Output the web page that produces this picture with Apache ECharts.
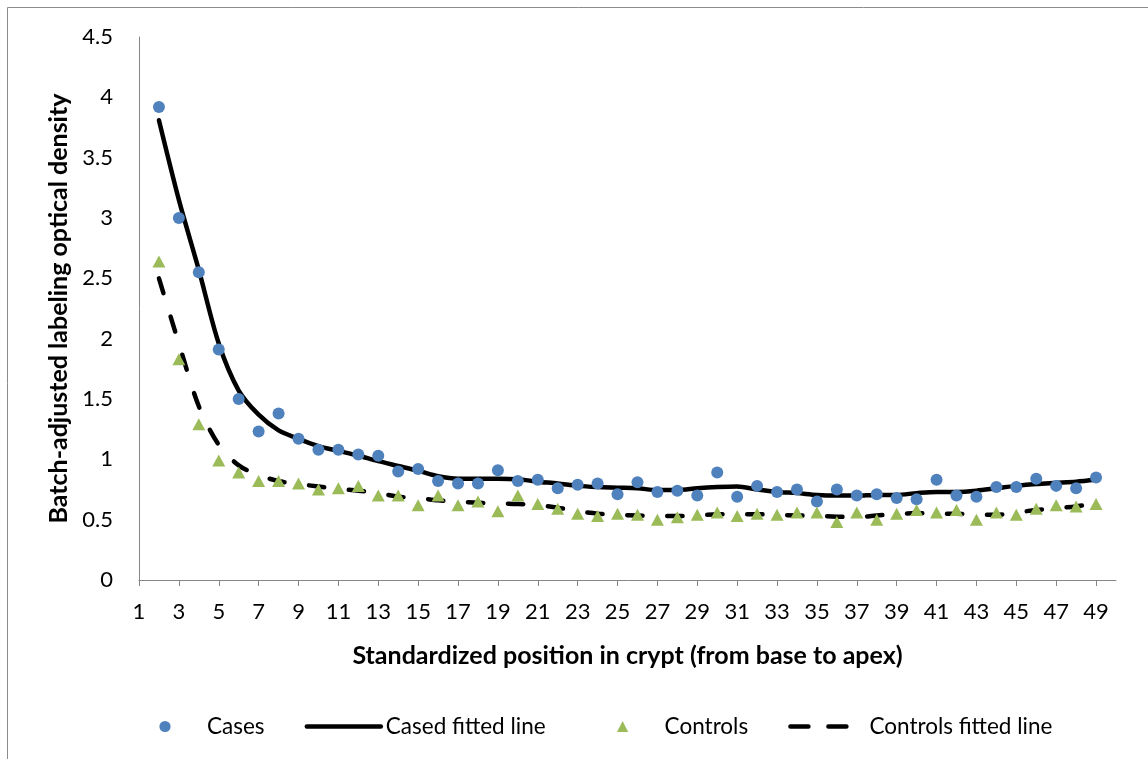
<!DOCTYPE html>
<html>
<head>
<meta charset="utf-8">
<script src="https://cdn.jsdelivr.net/npm/echarts@6/dist/echarts.min.js"></script>
<style>
  html, body { margin: 0; padding: 0; background: #ffffff; }
  #chart { width: 1148px; height: 759px; }
</style>
</head>
<body>
<div id="chart"></div>
<script>
// Standardized crypt positions (axis runs one step past the last measured position)
const positions = ['1','2','3','4','5','6','7','8','9','10',
  '11','12','13','14','15','16','17','18','19','20',
  '21','22','23','24','25','26','27','28','29','30',
  '31','32','33','34','35','36','37','38','39','40',
  '41','42','43','44','45','46','47','48','49','50'];

// Observed optical density, positions 1..50 (no values at 1 and 50)
const cases = [null, 3.92, 3.00, 2.55, 1.91, 1.50, 1.23, 1.38, 1.17, 1.08,
  1.08, 1.04, 1.03, 0.90, 0.92, 0.82, 0.80, 0.80, 0.91, 0.82,
  0.83, 0.76, 0.79, 0.80, 0.71, 0.81, 0.73, 0.74, 0.70, 0.89,
  0.69, 0.78, 0.73, 0.75, 0.65, 0.75, 0.70, 0.71, 0.68, 0.67,
  0.83, 0.70, 0.69, 0.77, 0.77, 0.84, 0.78, 0.76, 0.85, null];

const controls = [null, 2.64, 1.83, 1.29, 0.99, 0.89, 0.82, 0.82, 0.80, 0.75,
  0.76, 0.78, 0.70, 0.70, 0.62, 0.70, 0.62, 0.65, 0.57, 0.70,
  0.63, 0.59, 0.55, 0.53, 0.55, 0.54, 0.50, 0.52, 0.54, 0.56,
  0.53, 0.55, 0.54, 0.56, 0.56, 0.48, 0.56, 0.50, 0.55, 0.58,
  0.56, 0.58, 0.50, 0.56, 0.54, 0.59, 0.62, 0.61, 0.63, null];

// Smoothed fits
const casesFit = [null, 3.81, 3.15, 2.57, 1.96, 1.57, 1.37, 1.24, 1.17, 1.11,
  1.07, 1.03, 0.985, 0.945, 0.905, 0.86, 0.84, 0.84, 0.84, 0.835,
  0.815, 0.80, 0.78, 0.77, 0.765, 0.76, 0.745, 0.745, 0.76, 0.77,
  0.775, 0.75, 0.73, 0.72, 0.705, 0.70, 0.70, 0.705, 0.705, 0.72,
  0.73, 0.73, 0.74, 0.76, 0.78, 0.795, 0.805, 0.815, 0.83, null];

const controlsFit = [null, 2.50, 1.96, 1.44, 1.12, 0.95, 0.87, 0.82, 0.795, 0.775,
  0.755, 0.74, 0.72, 0.69, 0.68, 0.66, 0.65, 0.64, 0.635, 0.63,
  0.62, 0.60, 0.57, 0.55, 0.54, 0.535, 0.53, 0.53, 0.535, 0.545,
  0.545, 0.545, 0.54, 0.535, 0.53, 0.525, 0.52, 0.535, 0.545, 0.555,
  0.55, 0.55, 0.54, 0.54, 0.56, 0.58, 0.595, 0.61, 0.635, null];

const FONT = 'Lato, "Liberation Sans", sans-serif';
const AXIS_GREY = '#868686';
const BLUE = '#4F81BD';
const GREEN = '#9BBB59';

const chart = echarts.init(document.getElementById('chart'), null, { renderer: 'canvas' });

// Marker-only series: drawn as line series with an invisible stroke so the
// legend keeps the symbol's own proportions.
function markerSeries(name, values, symbol, size, color) {
  return {
    name: name,
    type: 'line',
    data: values,
    symbol: symbol,
    symbolSize: size,
    showSymbol: true,
    showAllSymbol: true,
    connectNulls: false,
    z: 3,
    lineStyle: { width: 0, opacity: 0 },
    itemStyle: { color: color, opacity: 1, borderWidth: 0 }
  };
}

chart.setOption({
  animation: false,
  backgroundColor: '#ffffff',
  textStyle: { fontFamily: FONT },
  graphic: [{
    type: 'rect',
    shape: { x: 7.5, y: 7.5, width: 1200, height: 800 },
    style: { fill: 'none', stroke: '#8c8c8c', lineWidth: 1 },
    silent: true
  }],
  grid: { left: 139, right: 32, top: 37, bottom: 179, containLabel: false },
  legend: {
    left: 123,
    top: 710,
    itemWidth: 74,
    itemHeight: 14,
    itemGap: 40,
    textStyle: { fontFamily: FONT, fontSize: 22.5, color: '#000000' },
    data: [
      { name: 'Cases', lineStyle: { width: 0, opacity: 0 } },
      { name: 'Cased fitted line', itemStyle: { opacity: 0 },
        lineStyle: { width: 4.5, color: '#000000', cap: 'round' } },
      { name: 'Controls', lineStyle: { width: 0, opacity: 0 } },
      { name: 'Controls fitted line', itemStyle: { opacity: 0 },
        lineStyle: { width: 4.5, color: '#000000', type: [18, 20], cap: 'round' } }
    ]
  },
  xAxis: {
    type: 'category',
    data: positions,
    boundaryGap: false,
    name: 'Standardized position in crypt (from base to apex)',
    nameLocation: 'middle',
    nameGap: 63,
    nameTextStyle: { fontFamily: FONT, fontSize: 25, fontWeight: 'bold', color: '#000000' },
    axisLine: { show: true, lineStyle: { color: AXIS_GREY, width: 1 } },
    axisTick: { show: true, interval: 1, length: 6, lineStyle: { color: AXIS_GREY } },
    axisLabel: { interval: 1, margin: 21, fontSize: 22, color: '#000000', fontFamily: FONT },
    splitLine: { show: false }
  },
  yAxis: {
    type: 'value',
    min: 0,
    max: 4.5,
    interval: 0.5,
    name: 'Batch-adjusted labeling optical density',
    nameLocation: 'middle',
    nameGap: 66,
    nameTextStyle: { fontFamily: FONT, fontSize: 25, fontWeight: 'bold', color: '#000000' },
    axisLine: { show: true, lineStyle: { color: AXIS_GREY, width: 1 } },
    axisTick: { show: false },
    axisLabel: { margin: 26, fontSize: 22, color: '#000000', fontFamily: FONT },
    splitLine: { show: false }
  },
  series: [
    markerSeries('Cases', cases, 'circle', 12, BLUE),
    {
      name: 'Cased fitted line',
      type: 'line',
      data: casesFit,
      symbol: 'none',
      smooth: 0.3,
      z: 2,
      lineStyle: { color: '#000000', width: 4.5, cap: 'round', join: 'round' },
      itemStyle: { color: '#000000' }
    },
    markerSeries('Controls', controls, 'triangle', [13, 12], GREEN),
    {
      name: 'Controls fitted line',
      type: 'line',
      data: controlsFit,
      symbol: 'none',
      smooth: 0.3,
      z: 2,
      lineStyle: { color: '#000000', width: 4.5, type: [15.5, 24.5], cap: 'round', join: 'round' },
      itemStyle: { color: '#000000' }
    }
  ]
});
</script>
</body>
</html>
